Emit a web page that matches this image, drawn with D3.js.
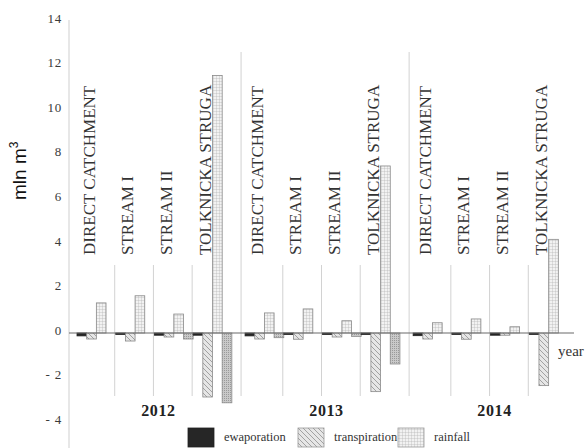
<!DOCTYPE html>
<html>
<head>
<meta charset="utf-8">
<script src="https://cdn.jsdelivr.net/npm/d3@7"></script>
<style>
  html, body { margin: 0; padding: 0; background: #fff; }
  svg { display: block; }
</style>
</head>
<body>
<svg id="chart" width="587" height="448"></svg>
<script>
// Water balance components per catchment and year (mln m³)
const years = ["2012", "2013", "2014"];
const stations = ["DIRECT CATCHMENT", "STREAM I", "STREAM II", "TOLKNICKA STRUGA"];
const seriesKeys = ["ewaporation", "transpiration", "rainfall", "outflow"];
const legendKeys = ["ewaporation", "transpiration", "rainfall"];

// values listed year by year, stations in order within each year
const ewaporation   = [-0.13, -0.04, -0.10, -0.10,  -0.13, -0.03, -0.03, -0.05,  -0.12, -0.03, -0.10, -0.05];
const transpiration = [-0.27, -0.36, -0.18, -2.87,  -0.27, -0.28, -0.18, -2.63,  -0.27, -0.28, -0.10, -2.36];
const rainfall      = [ 1.35,  1.67,  0.85, 11.55,   0.90,  1.08,  0.55,  7.49,   0.46,  0.63,  0.28,  4.20];
const outflow       = [ 0.00,  0.00, -0.27, -3.13,  -0.21,  0.00, -0.15, -1.39,   0.00,  0.00,  0.00,  0.00];
const yTicks = [-4, -2, 0, 2, 4, 6, 8, 10, 12, 14];

const seriesValues = { ewaporation, transpiration, rainfall, outflow };

const svg = d3.select("#chart");
const serif = "'Liberation Serif', 'DejaVu Serif', serif";

// fill patterns
const defs = svg.append("defs");
const hatch = defs.append("pattern").attr("id", "p-transpiration")
  .attr("patternUnits", "userSpaceOnUse").attr("width", 5).attr("height", 5);
hatch.append("rect").attr("width", 5).attr("height", 5).attr("fill", "#e6e6e6");
hatch.append("path").attr("d", "M-1,-1L6,6M-1,4L1,6M4,-1L6,1")
  .attr("stroke", "#9a9a9a").attr("stroke-width", 0.9);

const grid = defs.append("pattern").attr("id", "p-rainfall")
  .attr("patternUnits", "userSpaceOnUse").attr("width", 3).attr("height", 3);
grid.append("rect").attr("width", 3).attr("height", 3).attr("fill", "#f2f2f2");
grid.append("path").attr("d", "M0,0H3M0,0V3").attr("stroke", "#b0b0b0").attr("stroke-width", 0.7);

const dots = defs.append("pattern").attr("id", "p-outflow")
  .attr("patternUnits", "userSpaceOnUse").attr("width", 2).attr("height", 2);
dots.append("rect").attr("width", 2).attr("height", 2).attr("fill", "#c9c9c9");
dots.append("rect").attr("width", 1).attr("height", 1).attr("fill", "#9a9a9a");

const fills = {
  ewaporation: "#262626",
  transpiration: "url(#p-transpiration)",
  rainfall: "url(#p-rainfall)",
  outflow: "url(#p-outflow)"
};

// scales
const y = d3.scaleLinear().domain([-4, 14]).range([422.2, 20.8]);
const xYear = d3.scaleBand().domain(years).range([77, 568]).paddingInner(0.0786).paddingOuter(0);
const xStation = d3.scaleBand().domain(stations).range([0, xYear.bandwidth()]).padding(0);
const xSeries = d3.scaleBand().domain(seriesKeys).range([0, xStation.bandwidth()]).padding(0);

const axisX = 69;

// y axis line
svg.append("line").attr("x1", axisX).attr("x2", axisX).attr("y1", 20).attr("y2", 448)
  .attr("stroke", "#cfcfcf").attr("stroke-width", 1);

// y tick labels
const yAxis = d3.axisLeft(y).tickValues(yTicks).tickSize(0).tickPadding(7)
  .tickFormat(d => d < 0 ? "- " + Math.abs(d) : String(d));
const yg = svg.append("g").attr("transform", `translate(${axisX},0)`).call(yAxis);
yg.select(".domain").remove();
yg.selectAll("text").attr("font-family", serif).attr("font-size", 13)
  .attr("fill", "#3a3a3a").attr("dy", "0.1em").attr("letter-spacing", 0.8);

// y axis title
const yt = svg.append("text").attr("transform", "translate(26,200) rotate(-90)")
  .attr("font-family", "'Liberation Sans', Arial, sans-serif").attr("font-size", 19).attr("fill", "#111");
yt.append("tspan").text("mln m");
yt.append("tspan").attr("font-size", 12).attr("dy", -8).text("3");

// separators between catchments and years
years.forEach((yr, i) => {
  const x0 = xYear(yr);
  if (i > 0) {
    svg.append("line").attr("x1", x0 - 4).attr("x2", x0 - 4).attr("y1", 52).attr("y2", 396)
      .attr("stroke", "#d2d2d2");
  }
  stations.forEach((st, j) => {
    if (j > 0) {
      const xs = x0 + xStation(st) - 1;
      svg.append("line").attr("x1", xs).attr("x2", xs).attr("y1", 265).attr("y2", 396)
        .attr("stroke", "#d2d2d2");
    }
    // rotated catchment name
    svg.append("text")
      .attr("transform", `translate(${x0 + xStation(st) + 17.5},255) rotate(-90)`)
      .attr("font-family", serif).attr("font-size", 17).attr("fill", "#333")
      .text(st);
  });
  // year label
  svg.append("text").attr("x", x0 + xYear.bandwidth() / 2 + 4).attr("y", 416)
    .attr("text-anchor", "middle").attr("font-family", serif).attr("font-weight", "bold")
    .attr("font-size", 16).attr("letter-spacing", 0.6).attr("fill", "#222").text(yr);
});

// bars
const rows = [];
years.forEach((yr, i) => stations.forEach((st, j) => seriesKeys.forEach(k => {
  rows.push({ year: yr, station: st, key: k, value: seriesValues[k][i * stations.length + j] });
})));

svg.append("g").selectAll("rect").data(rows.filter(d => d.value !== 0)).join("rect")
  .attr("x", d => xYear(d.year) + xStation(d.station) + xSeries(d.key))
  .attr("width", xSeries.bandwidth())
  .attr("y", d => y(Math.max(0, d.value)))
  .attr("height", d => Math.max(1.5, Math.abs(y(d.value) - y(0))))
  .attr("fill", d => fills[d.key])
  .attr("stroke", d => d.key === "ewaporation" ? "#222" : "#8a8a8a")
  .attr("stroke-width", 0.8);

// zero line
svg.append("line").attr("x1", axisX).attr("x2", 574).attr("y1", y(0)).attr("y2", y(0))
  .attr("stroke", "#6a6a6a").attr("stroke-width", 1.1);

// x axis caption
svg.append("text").attr("x", 558).attr("y", 356).attr("font-family", serif)
  .attr("font-size", 15).attr("fill", "#333").text("year");

// legend
const legendX = [188, 298, 398];
legendKeys.forEach((k, i) => {
  svg.append("rect").attr("x", legendX[i]).attr("y", 428).attr("width", 26).attr("height", 19)
    .attr("fill", fills[k]).attr("stroke", k === "ewaporation" ? "#222" : "#999").attr("stroke-width", 0.8);
  svg.append("text").attr("x", legendX[i] + 36).attr("y", 441)
    .attr("font-family", serif).attr("font-size", 12.5).attr("fill", "#333").text(k);
});
</script>
</body>
</html>
